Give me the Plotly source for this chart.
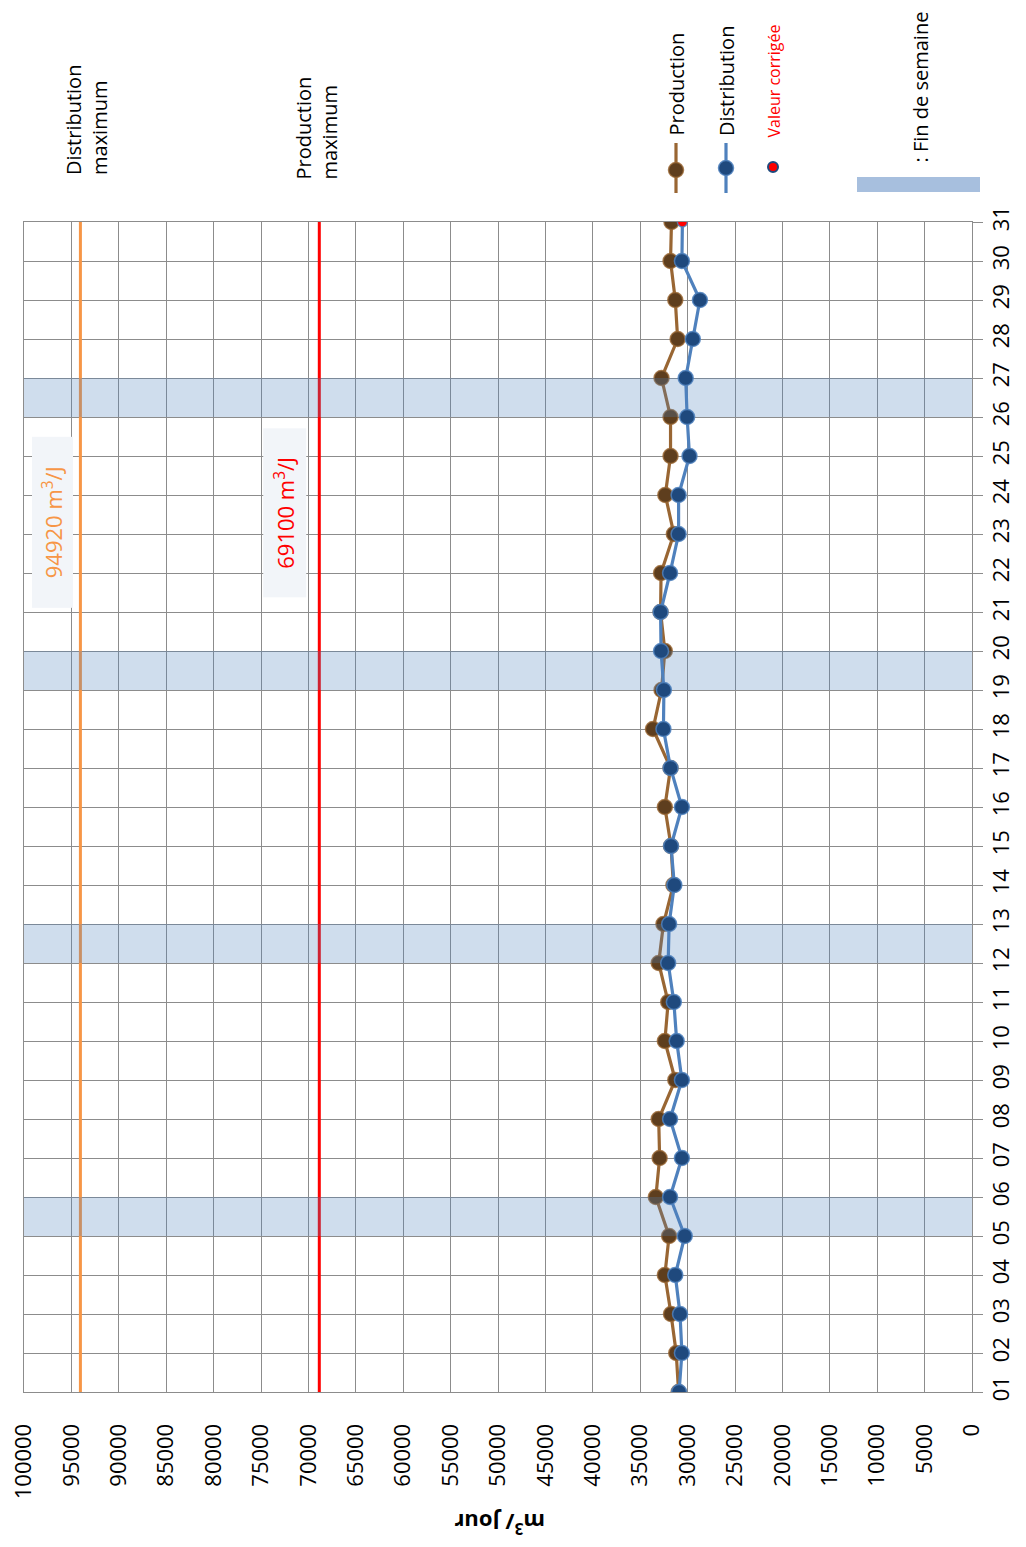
import plotly.graph_objects as go

# ---------------- data ----------------
days = list(range(1, 32))
day_labels = [f"{d:02d}" for d in days]
production = [30950, 31200, 31750, 32400, 31950, 33350, 32950, 33050, 31300, 32400,
              32050, 33050, 32550, 31500, 31750, 32400, 31800, 33650, 32750, 32400,
              32850, 32800, 31450, 32350, 31800, 31800, 32750, 31050, 31300, 31800, 31700]
distribution = [30900, 30600, 30800, 31300, 30300, 31850, 30600, 31850, 30600, 31150,
                31450, 32050, 31950, 31400, 31750, 30600, 31800, 32550, 32500, 32800,
                32850, 31850, 30950, 30950, 29800, 30050, 30200, 29450, 28700, 30600, 30550]
corrected_days = [31]
weekend_start_days = [5, 12, 19, 26]
dist_max_label = 94920
prod_max_label = 69100
dist_max_line = 94050   # position where the line is drawn in the picture
prod_max_line = 68850
value_ticks = list(range(0, 100001, 5000))

# ---------------- styling ----------------
FONT = "Open Sans"
GRID = "#8c8c8c"
BROWN_LINE = "rgb(153,102,51)"
BROWN_EDGE = "rgba(153,102,51,0.8)"
BROWN_FILL = "rgb(94,62,30)"
BLUE_LINE = "rgb(79,129,189)"
BLUE_EDGE = "rgba(79,129,189,0.85)"
BLUE_FILL = "rgb(31,73,125)"
ORANGE = "rgb(247,150,70)"
RED = "rgb(255,0,0)"
BAND = "rgba(79,129,189,0.27)"

# page pixel frame of the plot area (body has an 8px margin)
OFF = 8
L, R, T, B = 24, 972, 222, 1392
W, H = R - L, B - T
FIG_W, FIG_H = 1026, 1547


def px(x):
    return (x - L) / W


def py(y):
    return (B - y) / H


fig = go.Figure()

# max lines
fig.add_trace(go.Scatter(x=[dist_max_line, dist_max_line], y=[days[0], days[-1]], mode="lines",
                         line=dict(color=ORANGE, width=3), showlegend=False, hoverinfo="skip"))
fig.add_trace(go.Scatter(x=[prod_max_line, prod_max_line], y=[days[0], days[-1]], mode="lines",
                         line=dict(color=RED, width=3), showlegend=False, hoverinfo="skip"))

# production
fig.add_trace(go.Scatter(x=production, y=days, mode="lines+markers",
                         line=dict(color=BROWN_LINE, width=3.2),
                         marker=dict(size=15, color=BROWN_FILL, opacity=1,
                                     line=dict(color=BROWN_EDGE, width=1.5)),
                         showlegend=False))

# weekend bands
for s in weekend_start_days:
    fig.add_trace(go.Scatter(x=[0, 100000, 100000, 0, 0], y=[s, s, s + 1, s + 1, s],
                             mode="lines", fill="toself", fillcolor=BAND,
                             line=dict(width=0), showlegend=False, hoverinfo="skip"))

# distribution
sizes = [10 if d in corrected_days else 15 for d in days]
colors = [RED if d in corrected_days else BLUE_FILL for d in days]
fig.add_trace(go.Scatter(x=distribution, y=days, mode="lines+markers",
                         line=dict(color=BLUE_LINE, width=3.2),
                         marker=dict(size=sizes, color=colors, opacity=1,
                                     line=dict(color=BLUE_EDGE, width=1.5)),
                         showlegend=False))

shapes = []
annotations = []

# legend symbols
for cx, cy, lc, ec, fc in [(676, 170, BROWN_LINE, BROWN_EDGE, BROWN_FILL),
                           (726, 168, BLUE_LINE, BLUE_EDGE, BLUE_FILL)]:
    shapes.append(dict(type="line", xref="paper", yref="paper", x0=px(cx), x1=px(cx),
                       y0=py(143), y1=py(193), line=dict(color=lc, width=3.2)))
    shapes.append(dict(type="circle", xref="paper", yref="paper", xsizemode="pixel", ysizemode="pixel",
                       xanchor=px(cx), yanchor=py(cy), x0=-7.5, x1=7.5, y0=-7.5, y1=7.5,
                       fillcolor=fc, line=dict(color=ec, width=1.5)))
shapes.append(dict(type="circle", xref="paper", yref="paper", xsizemode="pixel", ysizemode="pixel",
                   xanchor=px(773), yanchor=py(167), x0=-5, x1=5, y0=-5, y1=5,
                   fillcolor=RED, line=dict(color=BLUE_FILL, width=2)))
shapes.append(dict(type="rect", xref="paper", yref="paper", x0=px(857), x1=px(980),
                   y0=py(192), y1=py(177), fillcolor="rgb(167,191,222)", line=dict(width=0)))


def rot_text(text, x, ybottom, size, color="black"):
    return dict(text=text, xref="paper", yref="paper",
                x=px(x), y=py(ybottom), xanchor="center", yanchor="bottom",
                textangle=-90, showarrow=False, align="left",
                font=dict(family=FONT, size=size, color=color))


annotations.append(rot_text("Production", 676, 138, 20))
annotations.append(rot_text("Distribution", 726, 138, 20))
annotations.append(rot_text("Valeur corrigée", 773, 140, 16, RED))
annotations.append(rot_text(": Fin de semaine", 920, 165, 20))
annotations.append(rot_text("Distribution<br>maximum", 87, 177, 20))
annotations.append(rot_text("Production<br>maximum", 316, 182, 20))

# value labels on the max lines
annotations.append(dict(text=f"{dist_max_label} m<sup>3</sup>/J", x=dist_max_line, y=23.31,
                        xref="x", yref="y", xshift=-28, textangle=-90, showarrow=False,
                        bgcolor="#F2F5F9", borderpad=5, width=160, height=30,
                        font=dict(family=FONT, size=22, color=ORANGE),
                        xanchor="center", yanchor="middle"))
annotations.append(dict(text=f"{prod_max_label} m<sup>3</sup>/J", x=prod_max_line, y=23.55,
                        xref="x", yref="y", xshift=-35, textangle=-90, showarrow=False,
                        bgcolor="#F2F5F9", borderpad=5, width=158, height=32,
                        font=dict(family=FONT, size=22, color=RED),
                        xanchor="center", yanchor="middle"))

# axis title (rotated)
annotations.append(dict(text="<b>m<sup>3</sup>/ Jour</b>", xref="paper", yref="paper",
                        x=px(500), y=py(1524), textangle=180, showarrow=False,
                        font=dict(family=FONT, size=22, color="black"),
                        xanchor="center", yanchor="middle"))

fig.update_layout(
    width=FIG_W, height=FIG_H, autosize=False,
    margin=dict(l=L - OFF, r=FIG_W - (R - OFF), t=T - OFF, b=FIG_H - (B - OFF)),
    paper_bgcolor="white", plot_bgcolor="white",
    font=dict(family=FONT, size=22, color="black"),
    showlegend=False,
    shapes=shapes, annotations=annotations,
    xaxis=dict(range=[100000, 0], tickvals=value_ticks, ticktext=[str(v) for v in value_ticks],
               tickangle=-90, showgrid=True, gridcolor=GRID, gridwidth=1, automargin=False,
               showline=True, linecolor=GRID, mirror=True, ticks="", zeroline=False,
               ticklabeloverflow="allow",
               ticklabelstandoff=22, tickfont=dict(family=FONT, size=22, color="black")),
    yaxis=dict(range=[days[0], days[-1]], tickvals=days, ticktext=day_labels, side="right",
               tickangle=-90, showgrid=True, gridcolor=GRID, gridwidth=1, automargin=False,
               showline=True, linecolor=GRID, mirror=True, ticks="outside", ticklen=10,
               ticklabeloverflow="allow",
               tickcolor=GRID, zeroline=False, tickfont=dict(family=FONT, size=22, color="black")),
)

fig.write_html("out.html")
